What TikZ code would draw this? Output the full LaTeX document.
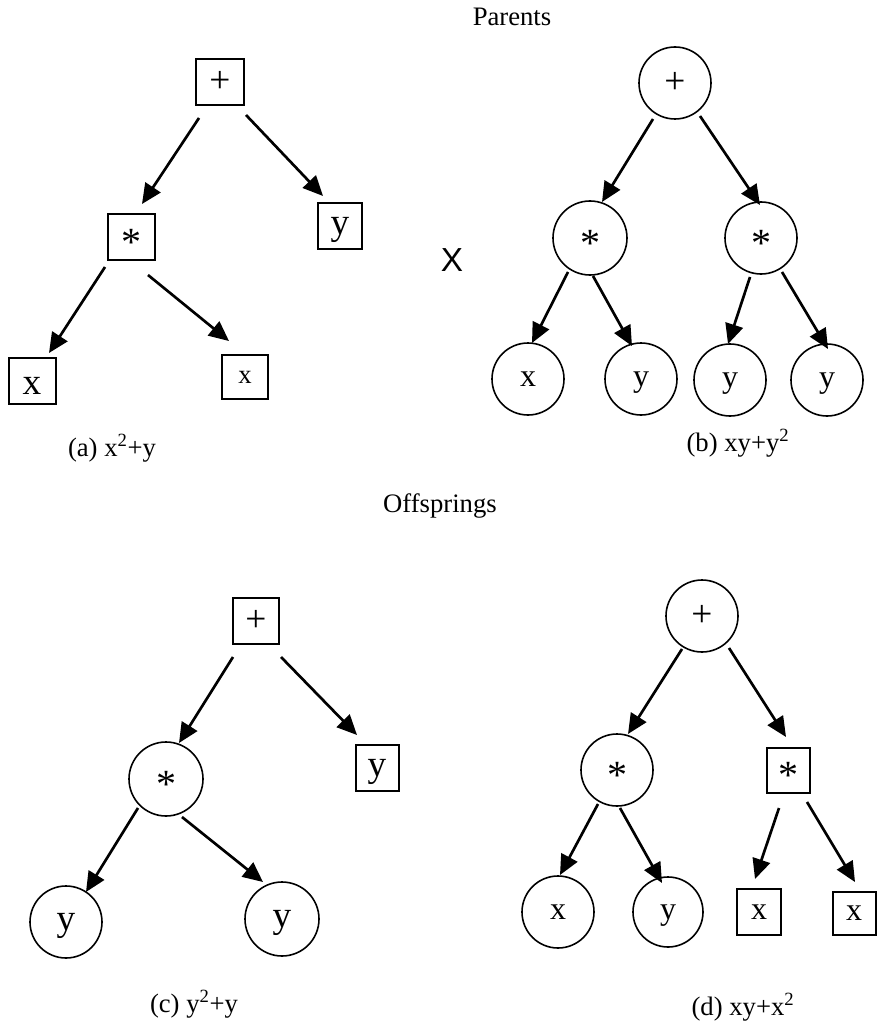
\documentclass[tikz,border=0pt]{standalone}
\usepackage{fontspec}
\setmainfont{Liberation Serif}
\newfontfamily\arialfont{Liberation Sans}
\usetikzlibrary{arrows.meta}
\newcommand\myfs[1]{\fontsize{#1}{#1}\selectfont}
\begin{document}
\begin{tikzpicture}[x=0.75pt,y=-0.75pt,
  bx/.style={draw, line width=1.5pt, rectangle, inner sep=0pt, text depth=0pt, minimum width=35pt, minimum height=34.5pt},
  cn/.style={draw, line width=1.2pt, circle, inner sep=0pt, text depth=0pt, minimum size=54pt, font={\myfs{24pt}}},
  star/.style={font={\myfs{30pt}}, text height=28pt},
  arr/.style={line width=2pt, -{Triangle[length=15pt,width=13.5pt]}},
  lbl/.style={inner sep=0pt, font={\myfs{20pt}}}]
\useasboundingbox (0,0) rectangle (876,1034);

% titles
\node[lbl] (tpar) at (512,17) {Parents};
\node[lbl] (toff) at (440,506) {Offsprings};
\node[inner sep=0pt, font={\arialfont\myfs{25pt}}] (cross) at (452,260) {X};

% ---------- tree (a)
\node[bx, minimum width=36pt, font={\myfs{28pt}}] (pa) at (220,82) {+};
\node[bx, star, minimum width=35.25pt] (ma) at (131,237) {*};
\node[bx, minimum width=33pt, font={\myfs{28pt}}] (ya) at (340,226) {y};
\node[bx, minimum width=35.25pt, font={\myfs{28pt}}, text height=20pt] (xa1) at (32,381) {x};
\node[bx, minimum width=34.5pt, minimum height=33pt, font={\myfs{20pt}}] (xa2) at (245,377) {x};
\draw[arr] ([shift={(-21,36)}]pa.center) -- ([shift={(11,-33)}]ma.center);
\draw[arr] ([shift={(26,33)}]pa.center) -- ([shift={(-17,-30)}]ya.center);
\draw[arr] ([shift={(-26,30)}]ma.center) -- ([shift={(17,-28)}]xa1.center);
\draw[arr] ([shift={(17,38)}]ma.center) -- ([shift={(-16,-36)}]xa2.center);
\node[lbl] (capa) at (112,448) {(a) x\textsuperscript{2}+y};

% ---------- tree (b)
\node[cn, font={\myfs{28pt}}] (pb) at (675,83) {+};
\node[cn, star, minimum size=55.5pt] (mb1) at (590,238) {*};
\node[cn, star] (mb2) at (761,238) {*};
\node[cn] (xb) at (528,379) {x};
\node[cn] (yb1) at (641,379) {y};
\node[cn] (yb2) at (730,380) {y};
\node[cn] (yb3) at (827,380) {y};
\draw[arr] ([shift={(-22,36)}]pb.center) -- ([shift={(12,-36)}]mb1.center);
\draw[arr] ([shift={(25,33)}]pb.center) -- ([shift={(-1,-33)}]mb2.center);
\draw[arr] ([shift={(-22,34)}]mb1.center) -- ([shift={(4,-36)}]xb.center);
\draw[arr] ([shift={(3,38)}]mb1.center) -- ([shift={(-9,-33)}]yb1.center);
\draw[arr] ([shift={(-11,39)}]mb2.center) -- ([shift={(-2,-36)}]yb2.center);
\draw[arr] ([shift={(21,34)}]mb2.center) -- ([shift={(1,-31)}]yb3.center);
\node[lbl] (capb) at (738,443) {(b) xy+y\textsuperscript{2}};

% ---------- tree (c)
\node[bx, minimum width=34.5pt, font={\myfs{28pt}}] (pc) at (256,621) {+};
\node[bx, minimum width=32.25pt, font={\myfs{28pt}}] (yc) at (377,768) {y};
\node[cn, star, minimum size=55.5pt] (mc) at (166,779) {*};
\node[cn, font={\myfs{28pt}}] (yc1) at (66,922) {y};
\node[cn, minimum size=55.5pt, font={\myfs{28pt}}] (yc2) at (282,919) {y};
\draw[arr] ([shift={(-23,36)}]pc.center) -- ([shift={(13,-36)}]mc.center);
\draw[arr] ([shift={(25,36)}]pc.center) -- ([shift={(-20,-33)}]yc.center);
\draw[arr] ([shift={(-28,29)}]mc.center) -- ([shift={(20,-30)}]yc1.center);
\draw[arr] ([shift={(16,38)}]mc.center) -- ([shift={(-19,-37)}]yc2.center);
\node[lbl] (capc) at (194,1004) {(c) y\textsuperscript{2}+y};

% ---------- tree (d)
\node[cn, font={\myfs{28pt}}] (pd) at (702,616) {+};
\node[cn, star] (md1) at (617,770) {*};
\node[bx, star, minimum width=32.25pt, minimum height=33.75pt] (md2) at (788,770) {*};
\node[cn] (xd1) at (558,912) {x};
\node[cn, minimum size=52.5pt] (yd) at (668,912) {y};
\node[bx, minimum width=33pt, font={\myfs{24pt}}] (xd2) at (759,912) {x};
\node[bx, minimum width=32.25pt, minimum height=32.25pt, font={\myfs{24pt}}] (xd3) at (854,913) {x};
\draw[arr] ([shift={(-20,33)}]pd.center) -- ([shift={(11,-36)}]md1.center);
\draw[arr] ([shift={(27,32)}]pd.center) -- ([shift={(-2,-33)}]md2.center);
\draw[arr] ([shift={(-19,34)}]md1.center) -- ([shift={(2,-37)}]xd1.center);
\draw[arr] ([shift={(3,38)}]md1.center) -- ([shift={(-6,-29)}]yd.center);
\draw[arr] ([shift={(-9,38)}]md2.center) -- ([shift={(-4,-33)}]xd2.center);
\draw[arr] ([shift={(19,32)}]md2.center) -- ([shift={(1,-31)}]xd3.center);
\node[lbl] (capd) at (743,1007) {(d) xy+x\textsuperscript{2}};
\end{tikzpicture}
\end{document}
